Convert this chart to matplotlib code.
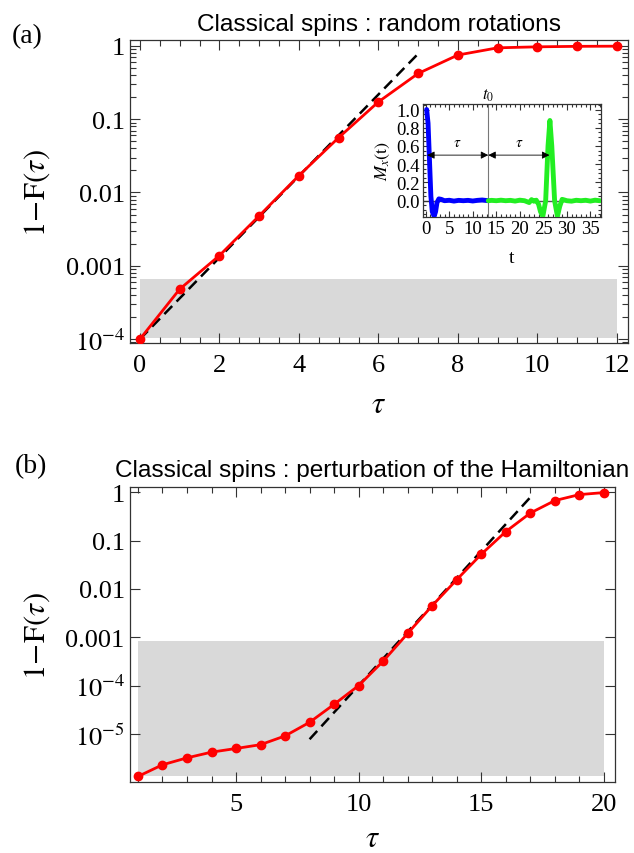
import matplotlib
matplotlib.use("Agg")
import matplotlib.pyplot as plt
import numpy as np
from matplotlib.ticker import FixedLocator, FixedFormatter, LogLocator, MultipleLocator, NullFormatter

# ---- panel (a): random rotations ----
tau_a = [0, 1, 2, 3, 4, 5, 6, 7, 8, 9, 10, 11, 12]
err_a = [1.0e-4, 4.8e-4, 1.38e-3, 4.8e-3, 0.017, 0.056, 0.172, 0.42, 0.75, 0.94, 0.97, 0.985, 0.99]
band_a = (1.05e-4, 6.6e-4)
fit_a = (0.0, 7.0)          # tau range of the dashed fit

# ---- panel (b): perturbation of the Hamiltonian ----
tau_b = [1, 2, 3, 4, 5, 6, 7, 8, 9, 10, 11, 12, 13, 14, 15, 16, 17, 18, 19, 20]
err_b = [1.32e-6, 2.3e-6, 3.2e-6, 4.2e-6, 5.0e-6, 6.0e-6, 9.1e-6, 1.74e-5, 4.1e-5, 1.0e-4,
         3.2e-4, 1.2e-3, 4.5e-3, 0.0155, 0.052, 0.153, 0.37, 0.67, 0.89, 0.98]
band_b = (1.35e-6, 8.2e-4)
fit_b = (8.0, 17.0)

# dashed exponential fit: log10(1-F) = fit_icpt + fit_slope * tau
fit_slope = 0.556
fit_icpt_a = -4.0
fit_icpt_b = -9.558

# ---- inset: magnetisation echo ----
t0 = 13.3
blue_t = [0.2, 0.5, 0.8, 1.1, 1.4, 1.8, 2.1, 2.4, 2.8, 3.3, 4.0, 5.0, 6.0, 7.0, 8.0, 9.0, 10.0, 11.0, 12.0, 13.3]
blue_m = [1.0, 0.85, 0.45, 0.05, -0.12, -0.17, -0.12, -0.02, 0.02, 0.015, 0.0, 0.005, -0.004, 0.004,
          0.0, 0.004, -0.003, 0.004, 0.008, 0.0]
green_t = [13.3, 14, 15, 16, 17, 18, 19, 20, 21, 22, 22.5, 23, 23.5, 24.0, 24.4, 24.9, 25.5, 26.0,
           26.4, 26.8, 27.4, 28.0, 28.5, 29.0, 29.5, 30, 31, 32, 33, 34, 35, 36, 37]
green_m = [0.0, 0.004, 0.0, 0.006, 0.0, 0.004, -0.004, 0.006, 0.0, -0.02, 0.012, -0.006, 0.006, -0.04, -0.12,
           -0.17, 0.0, 0.6, 0.88, 0.6, 0.0, -0.17, -0.06, 0.015, 0.008, 0.0, -0.005, 0.005, 0.0, 0.005,
           -0.004, 0.006, 0.0]

plt.rcParams["font.family"] = ["Liberation Serif", "DejaVu Serif"]
plt.rcParams["mathtext.fontset"] = "stix"

RED = "#ff0000"
GRAY = "#d9d9d9"
TICK_FS = 19
SANS = ["Liberation Sans", "DejaVu Sans"]


def style_frame(ax, fs=TICK_FS, major=7, minor=4):
    for s in ax.spines.values():
        s.set_linewidth(0.9)
        s.set_color("#333333")
    ax.tick_params(which="both", direction="in", top=True, right=True, labelsize=fs,
                   color="#333333", width=0.8)
    ax.tick_params(which="major", length=major)
    ax.tick_params(which="minor", length=minor)


def panel(ax, tau, err, band, fit_rng, icpt, yticks, ylabels, xlim, ylim, title, letter, letter_y, xpad, tpad):
    ax.fill_between([tau[0], tau[-1]], band[0], band[1], color=GRAY, lw=0, zorder=1)
    xf = np.array(fit_rng)
    ax.plot(xf, 10 ** (icpt + fit_slope * xf), ls=(0, (4.5, 2.5)), color="black", lw=1.8, zorder=3)
    ax.plot(tau, err, "-o", color=RED, lw=2.0, ms=6, zorder=4)
    ax.set_yscale("log")
    ax.set_xlim(*xlim)
    ax.set_ylim(*ylim)
    ax.yaxis.set_major_locator(FixedLocator(yticks))
    ax.yaxis.set_major_formatter(FixedFormatter(ylabels))
    ax.yaxis.set_minor_locator(LogLocator(base=10, subs=np.arange(2, 10)))
    ax.yaxis.set_minor_formatter(NullFormatter())
    style_frame(ax)
    ax.tick_params(axis="x", pad=8)
    ax.set_xlabel(r"$\tau$", fontsize=22, labelpad=xpad)
    ax.set_ylabel(r"$1\!-\!\mathrm{F}(\tau)$", fontsize=22, labelpad=10)
    ax.set_title(title, family=SANS, fontsize=17.6, pad=tpad)
    ax.text(-0.237, letter_y, letter, transform=ax.transAxes, fontsize=20, ha="left", va="center")


fig = plt.figure(figsize=(6.34, 8.54), dpi=100)

ax1 = fig.add_axes([0.205, 0.597, 0.7855, 0.355])
panel(ax1, tau_a, err_a, band_a, fit_a, fit_icpt_a,
      [1e-4, 1e-3, 1e-2, 1e-1, 1], [r"$10^{-4}$", "0.001", "0.01", "0.1", "1"],
      (-0.25, 12.28), (10 ** -4.055, 10 ** 0.08),
      "Classical spins : random rotations", "(a)", 1.013, 10, 7)
ax1.xaxis.set_major_locator(MultipleLocator(2))
ax1.xaxis.set_minor_locator(MultipleLocator(0.5))

ax2 = fig.add_axes([0.2044, 0.0828, 0.7663, 0.3454])
panel(ax2, tau_b, err_b, band_b, fit_b, fit_icpt_b,
      [1e-5, 1e-4, 1e-3, 1e-2, 1e-1, 1],
      [r"$10^{-5}$", r"$10^{-4}$", "0.001", "0.01", "0.1", "1"],
      (0.66, 20.47), (1e-6, 10 ** 0.1),
      "Classical spins : perturbation of the Hamiltonian", "(b)", 1.072, 6, 8)
ax2.xaxis.set_major_locator(MultipleLocator(5))
ax2.xaxis.set_minor_locator(MultipleLocator(1))

# ---- inset ----
axi = fig.add_axes([0.6667, 0.745, 0.2808, 0.132])
axi.set_facecolor("white")
axi.axhline(0, color="#555555", lw=1.0, zorder=1)
axi.axvline(t0, color="#777777", lw=0.8, zorder=1)
axi.plot(blue_t, blue_m, color="#0000ff", lw=3.5, solid_capstyle="round", zorder=3)
axi.plot(green_t, green_m, color="#22ee22", lw=3.5, solid_capstyle="round", zorder=3)
for a, b in [(0.3, t0), (t0, 26.3)]:
    axi.annotate("", xy=(b, 0.5), xytext=(a, 0.5),
                 arrowprops=dict(arrowstyle="<|-|>", color="black", lw=0.6,
                                 mutation_scale=11, shrinkA=0, shrinkB=0), zorder=4)
axi.text(6.7, 0.57, r"$\tau$", fontsize=11, ha="center", va="bottom")
axi.text(19.8, 0.57, r"$\tau$", fontsize=11, ha="center", va="bottom")
axi.text(t0, 1.07, r"$t_0$", fontsize=12, ha="center", va="bottom")
axi.set_xlim(-0.64, 37.2)
axi.set_ylim(-0.176, 1.06)
axi.xaxis.set_major_locator(MultipleLocator(5))
axi.xaxis.set_minor_locator(MultipleLocator(1))
axi.yaxis.set_major_locator(FixedLocator([0.0, 0.2, 0.4, 0.6, 0.8, 1.0]))
axi.yaxis.set_major_formatter(FixedFormatter(["0.0", "0.2", "0.4", "0.6", "0.8", "1.0"]))
axi.yaxis.set_minor_locator(MultipleLocator(0.05))
style_frame(axi, fs=13.5, major=4, minor=2)
axi.tick_params(axis="both", pad=2)
axi.set_xlabel("t", fontsize=14, labelpad=9)
axi.set_ylabel(r"$M_x(\mathrm{t})$", fontsize=13, labelpad=3)

fig.savefig("out.png", dpi=100)
